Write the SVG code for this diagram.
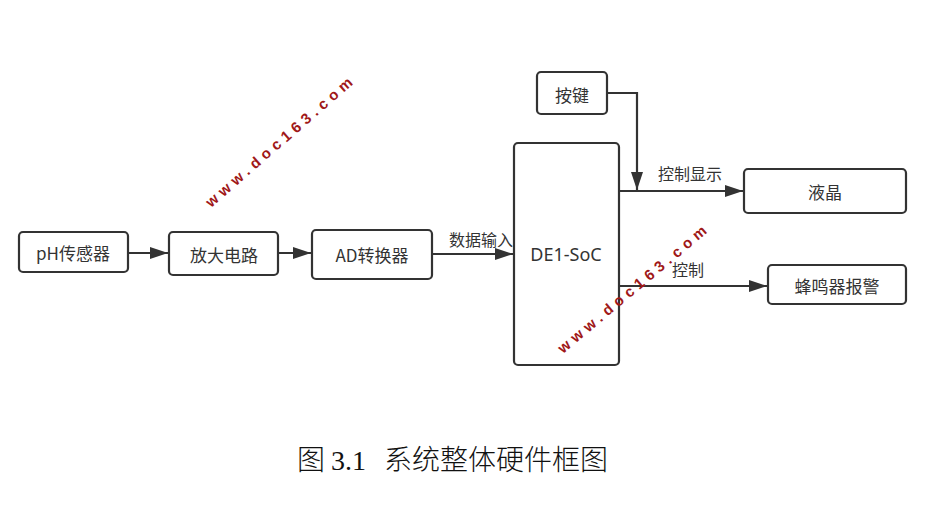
<svg xmlns="http://www.w3.org/2000/svg" width="939" height="505" viewBox="0 0 939 505">
<style>
.box{fill:#fff;stroke:#333;stroke-width:2.2}
.lbl{font-family:"Noto Sans CJK SC","Noto Sans",sans-serif;font-size:17px;fill:#333;text-anchor:middle;dominant-baseline:central}
.edge{fill:none;stroke:#333;stroke-width:2.2}
.el{font-family:"Noto Sans CJK SC","Noto Sans",sans-serif;font-size:16px;fill:#333;text-anchor:middle}
.wm{font-family:"Liberation Sans",Arial,sans-serif;font-size:15px;font-weight:bold;fill:#a01818;letter-spacing:4.9px}
.cap{font-family:"Liberation Serif","Noto Sans CJK SC",serif;font-size:28px;fill:#111;font-weight:300}
</style>
<defs>
<marker id="arr" viewBox="0 0 18 12" refX="18" refY="6" markerWidth="18" markerHeight="12" markerUnits="userSpaceOnUse" orient="auto">
<path d="M0,0 L18,6 L0,12 z" fill="#333"/>
</marker>
</defs>
<rect width="939" height="505" fill="#fff"/>
<g id="connectors">
<path class="edge" d="M128,253 H168" marker-end="url(#arr)"/>
<path class="edge" d="M278,253 H311" marker-end="url(#arr)"/>
<path class="edge" d="M432,254 H513" marker-end="url(#arr)"/>
<path class="edge" d="M607,93 H637 V190" marker-end="url(#arr)"/>
<path class="edge" d="M619,191 H743" marker-end="url(#arr)"/>
<path class="edge" d="M619,286 H767" marker-end="url(#arr)"/>
<text class="el" x="481" y="246">数据输入</text>
<text class="el" x="690" y="180">控制显示</text>
<text class="el" x="688" y="276">控制</text>
</g>
<g id="node-ph"><rect class="box" x="19" y="232" width="109" height="40" rx="4"/><text class="lbl" x="73" y="252">pH传感器</text></g>
<g id="node-amp"><rect class="box" x="169" y="232" width="109" height="43" rx="4"/><text class="lbl" x="224" y="254">放大电路</text></g>
<g id="node-ad"><rect class="box" x="312" y="230" width="120" height="49" rx="4"/><text class="lbl" x="372" y="254">AD转换器</text></g>
<g id="node-soc"><rect class="box" x="514" y="143" width="105" height="222" rx="4"/><text class="lbl" x="566" y="254" style="font-family:'Noto Sans',sans-serif;font-size:18px">DE1-SoC</text></g>
<g id="node-key"><rect class="box" x="537" y="72" width="70" height="42" rx="4"/><text class="lbl" x="572" y="94">按键</text></g>
<g id="node-lcd"><rect class="box" x="744" y="169" width="162" height="44" rx="4"/><text class="lbl" x="825" y="191">液晶</text></g>
<g id="node-buzzer"><rect class="box" x="768" y="265" width="138" height="39" rx="4"/><text class="lbl" x="837" y="285">蜂鸣器报警</text></g>
<text class="wm" transform="translate(211,208) rotate(-41)">www.doc163.com</text>
<text class="wm" transform="translate(563,354) rotate(-40)">www.doc163.com</text>
<text class="cap" x="297" y="470">图</text>
<text class="cap" x="331" y="470">3.1</text>
<text class="cap" x="384" y="470">系统整体硬件框图</text>
</svg>
